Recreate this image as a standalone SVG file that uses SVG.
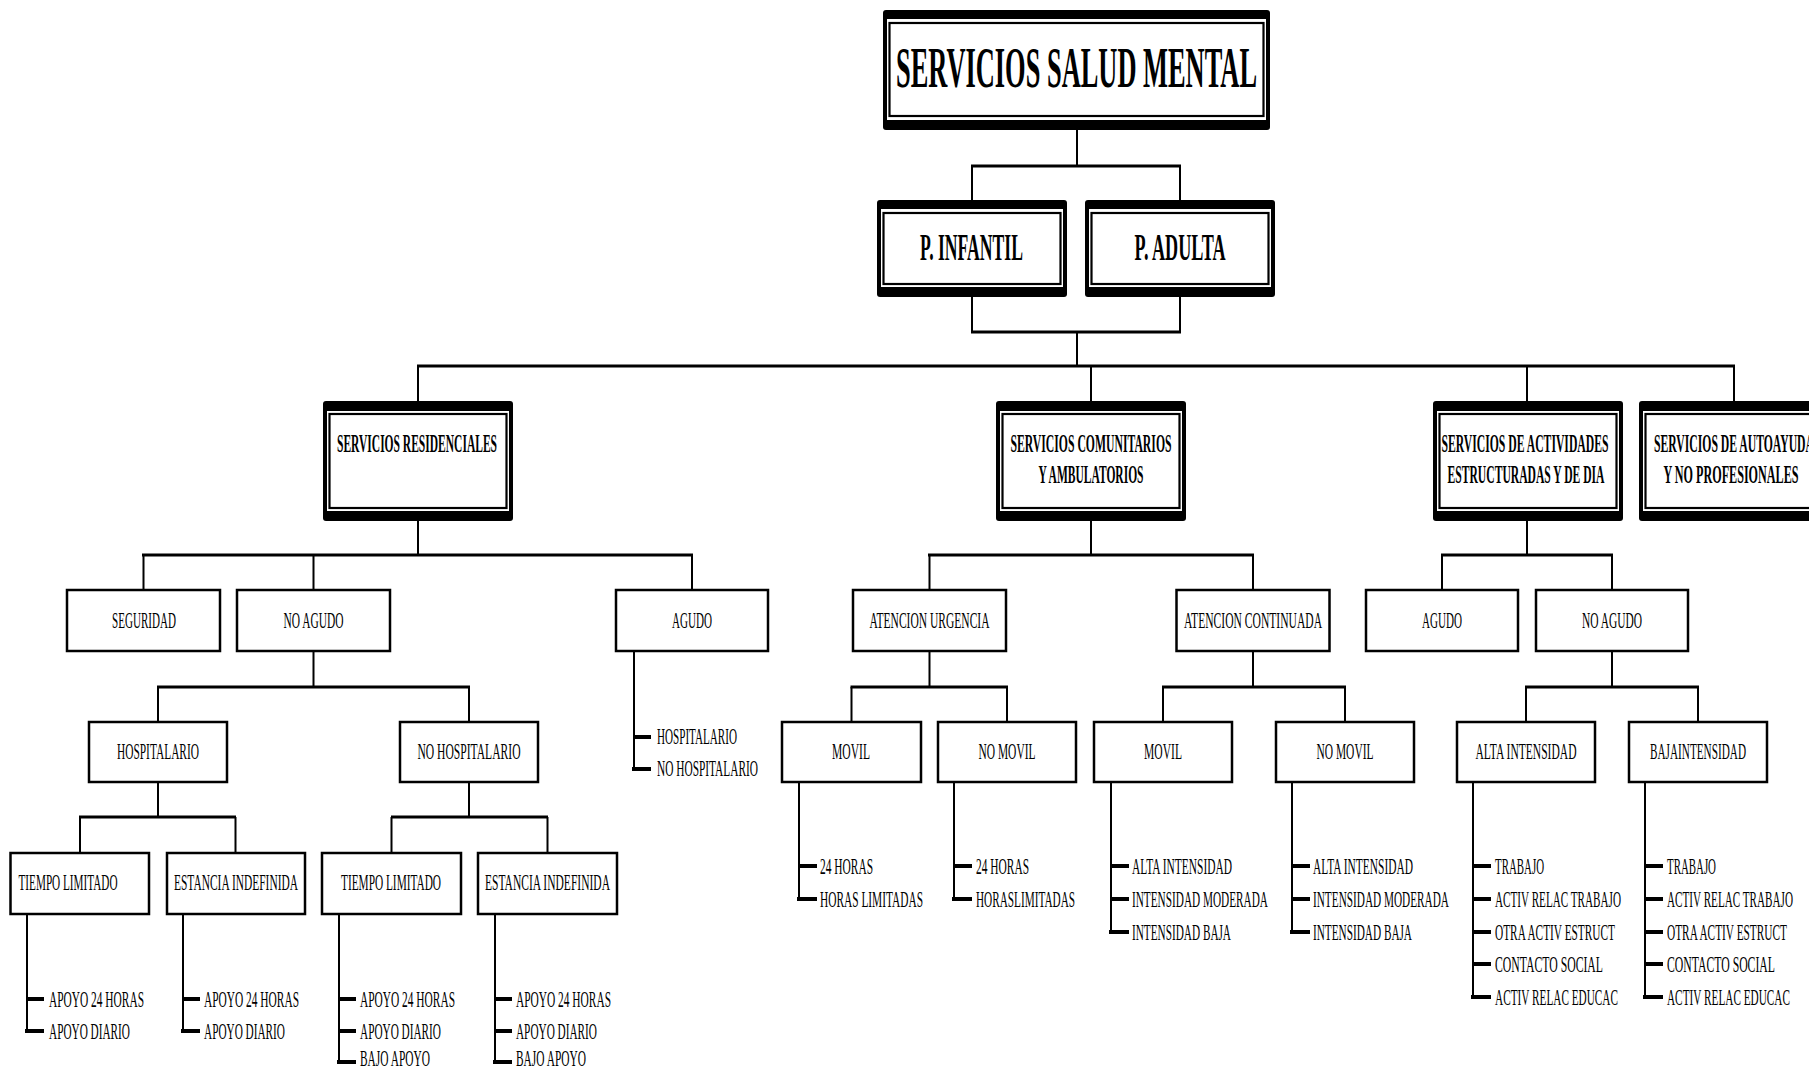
<svg xmlns="http://www.w3.org/2000/svg" width="1809" height="1072" viewBox="0 0 1809 1072">
<style>
text{font-family:"Liberation Serif","Times New Roman",serif;fill:#000}
.t{font-size:23px}
.tb{font-size:25px;font-weight:bold}
.t1{font-size:38px;font-weight:bold}
.t0{font-size:57px;font-weight:bold}
.bx{fill:#fff;stroke:#000;stroke-width:2.5}
.ob{fill:#000}
.wb{fill:#fff}
.il{fill:none;stroke:#000;stroke-width:2.2}
.v{fill:none;stroke:#000;stroke-width:2}
.h{fill:none;stroke:#000;stroke-width:3}
.k{fill:none;stroke:#000;stroke-width:4}
</style>
<rect width="1809" height="1072" fill="#fff"/>

<g id="connectors">
  <path class="v" d="M1077 130V166M972 166V200M1180 166V200"/>
  <path class="h" d="M971 166H1181"/>
  <path class="v" d="M972 297V332M1180 297V332M1077 332V366"/>
  <path class="h" d="M971 332H1181"/>
  <path class="h" d="M417 366H1735"/>
  <path class="v" d="M418 366V401M1091 366V401M1527 366V401M1734 366V401"/>
  <path class="v" d="M418 521V555M1091 521V555M1527 521V555"/>
  <path class="h" d="M142 555H693M928 555H1254M1441 555H1613"/>
  <path class="v" d="M143.5 555V590M313.5 555V590M692 555V590M929.5 555V590M1253 555V590M1442 555V590M1612 555V590"/>
  <path class="v" d="M313.5 651V687M929.5 651V687M1253 651V687M1612 651V687"/>
  <path class="h" d="M157 687H470M850.5 687H1008M1162 687H1346M1525 687H1699"/>
  <path class="v" d="M158 687V722M469 687V722M851.5 687V722M1007 687V722M1163 687V722M1345 687V722M1526 687V722M1698 687V722"/>
  <path class="v" d="M158 782V817M469 782V817"/>
  <path class="h" d="M79 817H236M391 817H548"/>
  <path class="v" d="M80 817V853M235.5 817V853M391.5 817V853M547.5 817V853"/>
  <path class="v" d="M634 651V769"/>
  <path class="k" d="M634 737H651M632 769H651"/>
  <path class="v" d="M799 782V899M954 782V899M1111 782V932M1292 782V932M1473 782V997M1645 782V997"/>
  <path class="k" d="M799 866H817M797 899H817M954 866H972M952 899H972M1111 866H1129M1111 899H1129M1109 932H1129M1292 866H1310M1292 899H1310M1290 932H1310M1473 866H1491M1473 899H1491M1473 932H1491M1473 964H1491M1471 997H1491M1645 866H1663M1645 899H1663M1645 932H1663M1645 964H1663M1643 997H1663"/>
  <path class="v" d="M27 914V1031M183 914V1031M339 914V1062M495 914V1062"/>
  <path class="k" d="M27 999H44M25 1031H44M183 999H200M181 1031H200M339 999H356M339 1031H356M337 1062H356M495 999H512M495 1031H512M493 1062H512"/>
</g>

<g id="n-title">
  <rect class="ob" x="883" y="10" width="387" height="120" rx="3"/>
  <rect class="wb" x="887" y="19" width="379" height="101"/>
  <rect class="il" x="889.5" y="23" width="374" height="93"/>
  <g transform="scale(0.5 1)"><text class="t0" x="2153" y="87" text-anchor="middle" textLength="722" lengthAdjust="spacingAndGlyphs">SERVICIOS SALUD MENTAL</text></g>
</g>

<g id="n-infantil">
  <rect class="ob" x="877" y="200" width="190" height="97" rx="3"/>
  <rect class="wb" x="881" y="209" width="182" height="78"/>
  <rect class="il" x="883.5" y="213" width="177" height="71"/>
  <g transform="scale(0.5 1)"><text class="t1" x="1943" y="260" text-anchor="middle" textLength="206" lengthAdjust="spacingAndGlyphs">P. INFANTIL</text></g>
</g>
<g id="n-adulta">
  <rect class="ob" x="1085" y="200" width="190" height="97" rx="3"/>
  <rect class="wb" x="1089" y="209" width="182" height="78"/>
  <rect class="il" x="1091.5" y="213" width="177" height="71"/>
  <g transform="scale(0.5 1)"><text class="t1" x="2360" y="260" text-anchor="middle" textLength="182" lengthAdjust="spacingAndGlyphs">P. ADULTA</text></g>
</g>

<g id="n-residenciales">
  <rect class="ob" x="323" y="401" width="190" height="120" rx="3"/>
  <rect class="wb" x="327" y="411" width="182" height="100"/>
  <rect class="il" x="329.5" y="414" width="177" height="94"/>
  <g transform="scale(0.5 1)"><text class="tb" x="834" y="452" text-anchor="middle" textLength="320" lengthAdjust="spacingAndGlyphs">SERVICIOS RESIDENCIALES</text></g>
</g>
<g id="n-comunitarios">
  <rect class="ob" x="996" y="401" width="190" height="120" rx="3"/>
  <rect class="wb" x="1000" y="411" width="182" height="100"/>
  <rect class="il" x="1002.5" y="414" width="177" height="94"/>
  <g transform="scale(0.5 1)">
  <text class="tb" x="2182" y="452" text-anchor="middle" textLength="322" lengthAdjust="spacingAndGlyphs">SERVICIOS COMUNITARIOS</text>
  <text class="tb" x="2182" y="483" text-anchor="middle" textLength="210" lengthAdjust="spacingAndGlyphs">Y AMBULATORIOS</text>
  </g>
</g>
<g id="n-actividades">
  <rect class="ob" x="1433" y="401" width="190" height="120" rx="3"/>
  <rect class="wb" x="1437" y="411" width="182" height="100"/>
  <rect class="il" x="1439.5" y="414" width="177" height="94"/>
  <g transform="scale(0.5 1)">
  <text class="tb" x="3050" y="452" text-anchor="middle" textLength="334" lengthAdjust="spacingAndGlyphs">SERVICIOS DE ACTIVIDADES</text>
  <text class="tb" x="3052" y="483" text-anchor="middle" textLength="314" lengthAdjust="spacingAndGlyphs">ESTRUCTURADAS Y DE DIA</text>
  </g>
</g>
<g id="n-autoayuda">
  <rect class="ob" x="1639" y="401" width="190" height="120" rx="3"/>
  <rect class="wb" x="1643" y="411" width="182" height="100"/>
  <rect class="il" x="1645.5" y="414" width="177" height="94"/>
  <g transform="scale(0.5 1)">
  <text class="tb" x="3468" y="452" text-anchor="middle" textLength="320" lengthAdjust="spacingAndGlyphs">SERVICIOS DE AUTOAYUDA</text>
  <text class="tb" x="3462" y="483" text-anchor="middle" textLength="270" lengthAdjust="spacingAndGlyphs">Y NO PROFESIONALES</text>
  </g>
</g>

<g id="n-seguridad"><rect class="bx" x="67" y="590" width="153" height="61"/>
  <g transform="scale(0.5 1)"><text class="t" x="288" y="628" text-anchor="middle" textLength="128" lengthAdjust="spacingAndGlyphs">SEGURIDAD</text></g></g>
<g id="n-noagudo-res"><rect class="bx" x="237" y="590" width="153" height="61"/>
  <g transform="scale(0.5 1)"><text class="t" x="627" y="628" text-anchor="middle" textLength="120" lengthAdjust="spacingAndGlyphs">NO AGUDO</text></g></g>
<g id="n-agudo-res"><rect class="bx" x="616" y="590" width="152" height="61"/>
  <g transform="scale(0.5 1)">
  <text class="t" x="1384" y="628" text-anchor="middle" textLength="80" lengthAdjust="spacingAndGlyphs">AGUDO</text>
  <text class="t" x="1314" y="744" textLength="160" lengthAdjust="spacingAndGlyphs">HOSPITALARIO</text>
  <text class="t" x="1314" y="776" textLength="202" lengthAdjust="spacingAndGlyphs">NO HOSPITALARIO</text>
  </g></g>
<g id="n-urgencia"><rect class="bx" x="853" y="590" width="153" height="61"/>
  <g transform="scale(0.5 1)"><text class="t" x="1859" y="628" text-anchor="middle" textLength="240" lengthAdjust="spacingAndGlyphs">ATENCION URGENCIA</text></g></g>
<g id="n-continuada"><rect class="bx" x="1176.5" y="590" width="153" height="61"/>
  <g transform="scale(0.5 1)"><text class="t" x="2506" y="628" text-anchor="middle" textLength="276" lengthAdjust="spacingAndGlyphs">ATENCION CONTINUADA</text></g></g>
<g id="n-agudo-act"><rect class="bx" x="1366" y="590" width="152" height="61"/>
  <g transform="scale(0.5 1)"><text class="t" x="2884" y="628" text-anchor="middle" textLength="80" lengthAdjust="spacingAndGlyphs">AGUDO</text></g></g>
<g id="n-noagudo-act"><rect class="bx" x="1536" y="590" width="152" height="61"/>
  <g transform="scale(0.5 1)"><text class="t" x="3224" y="628" text-anchor="middle" textLength="120" lengthAdjust="spacingAndGlyphs">NO AGUDO</text></g></g>

<g id="n-hospitalario"><rect class="bx" x="89" y="722" width="138" height="60"/>
  <g transform="scale(0.5 1)"><text class="t" x="316" y="759" text-anchor="middle" textLength="164" lengthAdjust="spacingAndGlyphs">HOSPITALARIO</text></g></g>
<g id="n-nohospitalario"><rect class="bx" x="400" y="722" width="138" height="60"/>
  <g transform="scale(0.5 1)"><text class="t" x="938" y="759" text-anchor="middle" textLength="206" lengthAdjust="spacingAndGlyphs">NO HOSPITALARIO</text></g></g>
<g id="n-movil-urg"><rect class="bx" x="782" y="722" width="139" height="60"/>
  <g transform="scale(0.5 1)">
  <text class="t" x="1702" y="759" text-anchor="middle" textLength="76" lengthAdjust="spacingAndGlyphs">MOVIL</text>
  <text class="t" x="1640" y="874" textLength="106" lengthAdjust="spacingAndGlyphs">24 HORAS</text>
  <text class="t" x="1640" y="907" textLength="206" lengthAdjust="spacingAndGlyphs">HORAS LIMITADAS</text>
  </g></g>
<g id="n-nomovil-urg"><rect class="bx" x="938" y="722" width="138" height="60"/>
  <g transform="scale(0.5 1)">
  <text class="t" x="2014" y="759" text-anchor="middle" textLength="114" lengthAdjust="spacingAndGlyphs">NO MOVIL</text>
  <text class="t" x="1952" y="874" textLength="106" lengthAdjust="spacingAndGlyphs">24 HORAS</text>
  <text class="t" x="1952" y="907" textLength="198" lengthAdjust="spacingAndGlyphs">HORASLIMITADAS</text>
  </g></g>
<g id="n-movil-cont"><rect class="bx" x="1094" y="722" width="138" height="60"/>
  <g transform="scale(0.5 1)">
  <text class="t" x="2326" y="759" text-anchor="middle" textLength="76" lengthAdjust="spacingAndGlyphs">MOVIL</text>
  <text class="t" x="2264" y="874" textLength="200" lengthAdjust="spacingAndGlyphs">ALTA INTENSIDAD</text>
  <text class="t" x="2264" y="907" textLength="272" lengthAdjust="spacingAndGlyphs">INTENSIDAD MODERADA</text>
  <text class="t" x="2264" y="940" textLength="198" lengthAdjust="spacingAndGlyphs">INTENSIDAD BAJA</text>
  </g></g>
<g id="n-nomovil-cont"><rect class="bx" x="1276" y="722" width="138" height="60"/>
  <g transform="scale(0.5 1)">
  <text class="t" x="2690" y="759" text-anchor="middle" textLength="114" lengthAdjust="spacingAndGlyphs">NO MOVIL</text>
  <text class="t" x="2626" y="874" textLength="200" lengthAdjust="spacingAndGlyphs">ALTA INTENSIDAD</text>
  <text class="t" x="2626" y="907" textLength="272" lengthAdjust="spacingAndGlyphs">INTENSIDAD MODERADA</text>
  <text class="t" x="2626" y="940" textLength="198" lengthAdjust="spacingAndGlyphs">INTENSIDAD BAJA</text>
  </g></g>
<g id="n-alta"><rect class="bx" x="1457" y="722" width="138" height="60"/>
  <g transform="scale(0.5 1)">
  <text class="t" x="3052" y="759" text-anchor="middle" textLength="202" lengthAdjust="spacingAndGlyphs">ALTA INTENSIDAD</text>
  <text class="t" x="2990" y="874" textLength="98" lengthAdjust="spacingAndGlyphs">TRABAJO</text>
  <text class="t" x="2990" y="907" textLength="252" lengthAdjust="spacingAndGlyphs">ACTIV RELAC TRABAJO</text>
  <text class="t" x="2990" y="940" textLength="240" lengthAdjust="spacingAndGlyphs">OTRA ACTIV ESTRUCT</text>
  <text class="t" x="2990" y="972" textLength="216" lengthAdjust="spacingAndGlyphs">CONTACTO SOCIAL</text>
  <text class="t" x="2990" y="1005" textLength="246" lengthAdjust="spacingAndGlyphs">ACTIV RELAC EDUCAC</text>
  </g></g>
<g id="n-baja"><rect class="bx" x="1629" y="722" width="138" height="60"/>
  <g transform="scale(0.5 1)">
  <text class="t" x="3396" y="759" text-anchor="middle" textLength="192" lengthAdjust="spacingAndGlyphs">BAJAINTENSIDAD</text>
  <text class="t" x="3334" y="874" textLength="98" lengthAdjust="spacingAndGlyphs">TRABAJO</text>
  <text class="t" x="3334" y="907" textLength="252" lengthAdjust="spacingAndGlyphs">ACTIV RELAC TRABAJO</text>
  <text class="t" x="3334" y="940" textLength="240" lengthAdjust="spacingAndGlyphs">OTRA ACTIV ESTRUCT</text>
  <text class="t" x="3334" y="972" textLength="216" lengthAdjust="spacingAndGlyphs">CONTACTO SOCIAL</text>
  <text class="t" x="3334" y="1005" textLength="246" lengthAdjust="spacingAndGlyphs">ACTIV RELAC EDUCAC</text>
  </g></g>

<g id="n-tl1"><rect class="bx" x="10.5" y="853" width="138.5" height="61"/>
  <g transform="scale(0.5 1)">
  <text class="t" x="136" y="890" text-anchor="middle" textLength="198" lengthAdjust="spacingAndGlyphs">TIEMPO LIMITADO</text>
  <text class="t" x="98" y="1007" textLength="190" lengthAdjust="spacingAndGlyphs">APOYO 24 HORAS</text>
  <text class="t" x="98" y="1039" textLength="162" lengthAdjust="spacingAndGlyphs">APOYO DIARIO</text>
  </g></g>
<g id="n-ei1"><rect class="bx" x="167" y="853" width="138" height="61"/>
  <g transform="scale(0.5 1)">
  <text class="t" x="472" y="890" text-anchor="middle" textLength="248" lengthAdjust="spacingAndGlyphs">ESTANCIA INDEFINIDA</text>
  <text class="t" x="408" y="1007" textLength="190" lengthAdjust="spacingAndGlyphs">APOYO 24 HORAS</text>
  <text class="t" x="408" y="1039" textLength="162" lengthAdjust="spacingAndGlyphs">APOYO DIARIO</text>
  </g></g>
<g id="n-tl2"><rect class="bx" x="322" y="853" width="139" height="61"/>
  <g transform="scale(0.5 1)">
  <text class="t" x="782" y="890" text-anchor="middle" textLength="200" lengthAdjust="spacingAndGlyphs">TIEMPO LIMITADO</text>
  <text class="t" x="720" y="1007" textLength="190" lengthAdjust="spacingAndGlyphs">APOYO 24 HORAS</text>
  <text class="t" x="720" y="1039" textLength="162" lengthAdjust="spacingAndGlyphs">APOYO DIARIO</text>
  <text class="t" x="720" y="1066" textLength="140" lengthAdjust="spacingAndGlyphs">BAJO APOYO</text>
  </g></g>
<g id="n-ei2"><rect class="bx" x="478" y="853" width="139" height="61"/>
  <g transform="scale(0.5 1)">
  <text class="t" x="1095" y="890" text-anchor="middle" textLength="250" lengthAdjust="spacingAndGlyphs">ESTANCIA INDEFINIDA</text>
  <text class="t" x="1032" y="1007" textLength="190" lengthAdjust="spacingAndGlyphs">APOYO 24 HORAS</text>
  <text class="t" x="1032" y="1039" textLength="162" lengthAdjust="spacingAndGlyphs">APOYO DIARIO</text>
  <text class="t" x="1032" y="1066" textLength="140" lengthAdjust="spacingAndGlyphs">BAJO APOYO</text>
  </g></g>
</svg>
